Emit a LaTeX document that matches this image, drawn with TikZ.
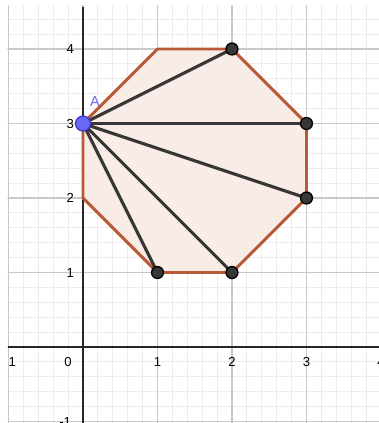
\documentclass[tikz,border=0pt]{standalone}
\usepackage{fontspec}
\setsansfont{Liberation Sans}
\usepackage{tikz}
\usetikzlibrary{positioning}
\definecolor{minorgray}{RGB}{236,236,236}
\definecolor{majorgray}{RGB}{200,200,200}
\definecolor{edgebrown}{RGB}{185,90,55}
\definecolor{facepink}{RGB}{249,236,230}
\definecolor{segdark}{RGB}{55,55,55}
\definecolor{ptblue}{RGB}{105,105,245}
\definecolor{ptblueline}{RGB}{60,60,200}
\tikzset{
  axis/.style={black!85, line width=0.8pt},
  minorgrid/.style={minorgray, line width=0.4pt},
  majorgrid/.style={majorgray, line width=0.5pt},
  edge/.style={edgebrown, line width=1.1pt, line join=round},
  face/.style={fill=facepink},
  seg/.style={segdark, line width=1.2pt},
  pt/.style={circle, draw=black, fill=segdark, line width=0.5pt,
             minimum size=1.6mm, inner sep=0pt},
  ptA/.style={circle, draw=ptblueline, fill=ptblue, line width=0.5pt,
              minimum size=2.0mm, inner sep=0pt},
  tick/.style={font=\sffamily\fontsize{5}{6}\selectfont, inner sep=0pt},
  ptlab/.style={font=\sffamily\fontsize{5.5}{6}\selectfont, text=ptblue, inner sep=0pt},
}
\begin{document}
\begin{tikzpicture}[x=1cm,y=1cm]
  \useasboundingbox (-1.114,-1.02) rectangle (3.973,4.658);

  % grid
  \begin{scope}
    \clip (-1.01,-1.1) rectangle (4.1,4.59);
    \draw[minorgrid, step=0.2] (-1.2,-1.2) grid (4.2,4.8);
    \draw[majorgrid, step=1] (-1.2,-1.2) grid (4.2,4.8);
  \end{scope}

  % axes
  \draw[axis] (-1.01,0) -- (4.1,0);
  \draw[axis] (0,-1.1) -- (0,4.56);

  % tick labels
  \node[tick] (xm) at (-0.95,-0.2) {1};
  \node[tick] (x0) at (-0.2,-0.2) {0};
  \foreach \i in {1,2,3,4}
    \node[tick] (x\i) at (\i,-0.2) {\i};
  \foreach \j in {1,2,3,4}
    \node[tick] (y\j) at (-0.17,\j) {\j};
  \node[tick] (ym) at (-0.24,-1) {-1};

  % vertices
  \coordinate (P1) at (1,4);
  \coordinate (P2) at (2,4);
  \coordinate (P3) at (3,3);
  \coordinate (P4) at (3,2);
  \coordinate (P5) at (2,1);
  \coordinate (P6) at (1,1);
  \coordinate (P7) at (0,2);
  \coordinate (A) at (0,3);

  % octagon
  \fill[face] (P1) -- (P2) -- (P3) -- (P4) -- (P5) -- (P6) -- (P7) -- (A) -- cycle;
  \draw[edge] (P1) -- (P2) -- (P3) -- (P4) -- (P5) -- (P6) -- (P7) -- (A) -- cycle;

  % diagonals from A
  \foreach \k in {2,3,4,5,6}
    \draw[seg] (A) -- (P\k);

  % points
  \foreach \k in {2,3,4,5,6}
    \node[pt] (Q\k) at (P\k) {};
  \node[ptA] (QA) at (A) {};
  \node[ptlab] (LA) at (0.16,3.3) {A};
\end{tikzpicture}
\end{document}
